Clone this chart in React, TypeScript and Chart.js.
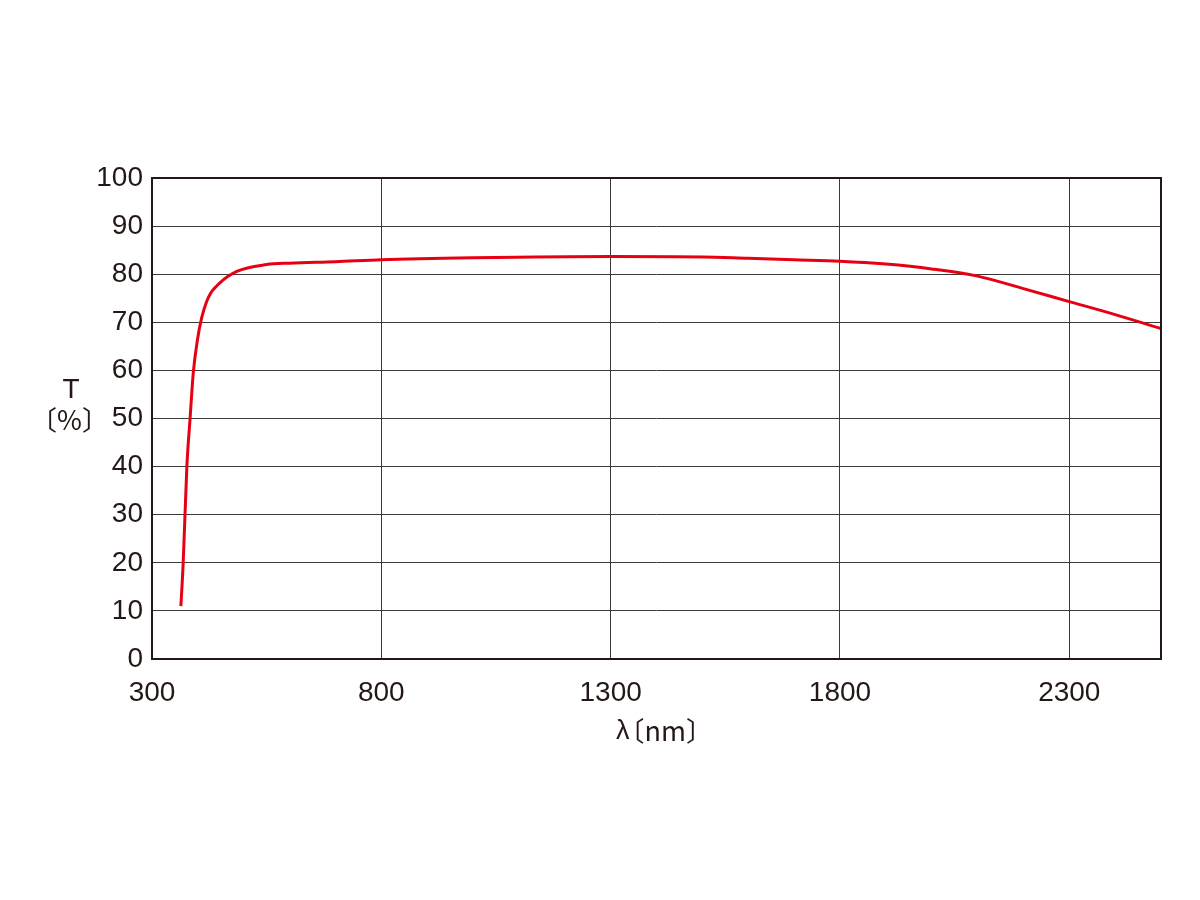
import React, { useEffect, useRef } from "react";
import { Chart, registerables } from "chart.js";

Chart.register(...registerables);

const wavelengths = [363, 368, 376, 383, 390, 399, 408, 423, 448, 485, 550, 600, 700, 800, 1000, 1300, 1500, 1600, 1700, 1800, 1900, 2000, 2100, 2200, 2300, 2400, 2500];
const transmittance = [11, 20, 40, 50, 59.5, 66.3, 70.8, 75.2, 78.2, 80.6, 82, 82.3, 82.6, 83, 83.4, 83.7, 83.6, 83.3, 83.0, 82.7, 82.1, 81.1, 79.6, 77.0, 74.3, 71.6, 68.7];
const xTicks = [300, 800, 1300, 1800, 2300];
const yTitleLines = ["T", "〔%〕"];
const xTitleSymbol = "λ";
const xTitleUnit = "〔nm〕";

const FONT = "'Liberation Sans', Arial, sans-serif";
const CJK = "'Noto Sans CJK JP', 'Liberation Sans', sans-serif";
const TEXT = "#231815";

export default function App() {
  const ref = useRef<HTMLCanvasElement | null>(null);
  useEffect(() => {
    const canvas = ref.current!;
    const framePlugin = {
      id: "frame",
      afterDraw(chart: any) {
        const { ctx, chartArea } = chart;
        ctx.save();
        ctx.strokeStyle = "#231815";
        ctx.lineWidth = 2;
        ctx.strokeRect(chartArea.left, chartArea.top, chartArea.right - chartArea.left, chartArea.bottom - chartArea.top);
        ctx.fillStyle = TEXT;
        ctx.textBaseline = "middle";
        ctx.textAlign = "center";
        ctx.font = "28px " + FONT;
        ctx.fillText(yTitleLines[0], 71, 390);
        ctx.font = "27px " + CJK;
        ctx.fillText(yTitleLines[1], 69.5, 420);
        // x title: λ〔nm〕
        ctx.textAlign = "left";
        ctx.font = "27px " + FONT;
        const lw = ctx.measureText(xTitleSymbol).width;
        const startX = 616;
        ctx.fillText(xTitleSymbol, startX, 732);
        ctx.font = "27px " + CJK;
        ctx.fillText(xTitleUnit, startX + lw - 12, 731);
        ctx.restore();
      },
    };
    const chart = new Chart(canvas, {
      type: "line",
      data: {
        datasets: [
          {
            data: wavelengths.map((x, i) => ({ x, y: transmittance[i] })),
            borderColor: "#e60012",
            borderWidth: 3,
            pointRadius: 0,
            fill: false,
            cubicInterpolationMode: "monotone",
          },
        ],
      },
      options: {
        responsive: false,
        animation: false,
        layout: { padding: { top: 178, right: 39, left: 0, bottom: 0 } },
        plugins: { legend: { display: false }, tooltip: { enabled: false } },
        scales: {
          x: {
            type: "linear",
            min: 300,
            max: 2500,
            afterBuildTicks: (axis: any) => {
              axis.ticks = xTicks.map((v) => ({ value: v }));
            },
            afterFit: (axis: any) => {
              axis.height = 241;
            },
            grid: { color: "#3a3a3a", lineWidth: 1, drawTicks: false },
            border: { display: false },
            ticks: {
              color: TEXT,
              font: { size: 28, family: FONT },
              padding: 17,
              maxRotation: 0,
              autoSkip: false,
              callback: (v: any) => String(v),
            },
          },
          y: {
            min: 0,
            max: 100,
            afterFit: (axis: any) => {
              axis.width = 152;
            },
            grid: { color: "#3a3a3a", lineWidth: 1, drawTicks: false },
            border: { display: false },
            ticks: {
              stepSize: 10,
              color: TEXT,
              font: { size: 28, family: FONT },
              padding: 9,
              callback: (v: any) => String(v),
            },
          },
        },
      },
      plugins: [framePlugin],
    } as any);
    return () => chart.destroy();
  }, []);
  return (
    <div style={{ position: "fixed", left: 0, top: 0, width: 1200, height: 900, background: "#fff" }}>
      <canvas ref={ref} width={1200} height={900} style={{ display: "block" }} />
    </div>
  );
}
